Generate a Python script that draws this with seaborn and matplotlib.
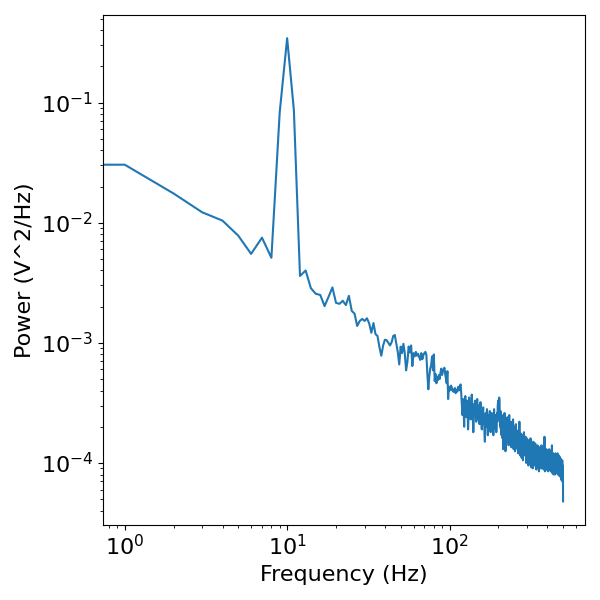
import numpy as np
import pandas as pd
import matplotlib
matplotlib.use("Agg")
import matplotlib.pyplot as plt
import seaborn as sns

# frequency bins, 1 Hz resolution from 0 to 500 Hz
freqs = np.arange(0, 501)

# power (V^2/Hz)
power_0_15 = [0.0152, 0.0304, 0.0175, 0.0122, 0.0104, 0.0078, 0.0055, 0.0075,
              0.0051, 0.083, 0.344, 0.087, 0.0036, 0.0040, 0.00285, 0.00256]

power_16_100 = [
    0.00250, 0.00202, 0.00242, 0.00289, 0.00215, 0.00211, 0.00224, 0.00206, 0.00246, 0.00184,
    0.00175, 0.00138, 0.00152, 0.00158, 0.00152, 0.00160, 0.00145, 0.00121, 0.00146, 0.00118,
    0.00114, 0.00092, 0.00078, 0.00095, 0.00106, 0.00105, 0.00100, 0.00095, 0.00101, 0.00114,
    0.00116, 0.00099, 0.00084, 0.00066, 0.00093, 0.00082, 0.00098, 0.00082, 0.00059, 0.00069,
    0.00093, 0.00083, 0.00095, 0.00064, 0.00082, 0.00077, 0.00084, 0.00078, 0.00081, 0.00076,
    0.00072, 0.00082, 0.00073, 0.00079, 0.00082, 0.00084, 0.00079, 0.00055, 0.00041, 0.00052,
    0.00061, 0.00065, 0.00077, 0.00059, 0.00080, 0.00048, 0.00055, 0.00046, 0.00052, 0.00049,
    0.00054, 0.00050, 0.00057, 0.00061, 0.00054, 0.00058, 0.00060, 0.00062, 0.00055, 0.00050,
    0.00046, 0.00058, 0.00034, 0.00043, 0.00040,
]

# 101..500 Hz, in units of 1e-4 V^2/Hz
power_101_500_e4 = [
    4.1, 4.4, 4.3, 4.0, 4.1, 3.9, 4.0, 4.2, 3.8, 4.0,
    3.9, 4.1, 4.3, 4.0, 4.2, 4.4, 4.5, 3.8, 3.1, 2.5,
    3.4, 2.9, 2.0, 3.1, 3.6, 2.7, 2.4, 3.3, 3.0, 1.9,
    2.6, 3.5, 2.9, 3.2, 2.3, 2.7, 3.7, 3.0, 2.5, 1.8,
    2.4, 3.1, 2.8, 3.3, 2.6, 2.2, 2.9, 3.4, 2.7, 2.3,
    3.0, 2.5, 2.1, 2.8, 3.2, 2.6, 2.2, 1.9, 2.7, 2.4,
    2.9, 2.1, 2.5, 1.8, 1.5, 2.3, 2.6, 2.0, 2.4, 2.8,
    2.2, 1.7, 2.1, 2.5, 1.9, 2.3, 2.7, 2.0, 1.8, 2.4,
    2.2, 2.6, 1.9, 2.3, 2.1, 1.7, 2.4, 2.8, 2.0, 2.2,
    2.5, 1.9, 2.3, 1.8, 2.1, 2.6, 2.2, 3.0, 3.3, 2.4,
    2.6, 3.5, 3.3, 2.4, 2.0, 2.7, 1.9, 2.3, 1.7, 2.5,
    2.1, 1.6, 2.4, 1.3, 1.9, 2.2, 1.7, 2.6, 1.8, 2.0,
    1.25, 1.9, 2.3, 1.6, 2.1, 1.5, 2.4, 1.8, 2.2, 1.7,
    1.4, 2.0, 2.5, 1.9, 1.6, 2.1, 1.5, 1.8, 2.2, 1.35,
    1.7, 2.0, 1.45, 1.9, 1.6, 2.3, 1.55, 1.3, 1.8, 2.0,
    1.5, 1.75, 1.25, 1.9, 1.6, 2.1, 1.45, 1.7, 1.85, 1.4,
    1.6, 1.3, 1.75, 1.5, 1.2, 1.65, 1.9, 1.4, 2.2, 1.55,
    1.35, 1.6, 1.15, 1.5, 1.75, 1.3, 1.55, 1.1, 1.45, 1.7,
    1.25, 1.5, 1.05, 1.4, 1.6, 1.35, 1.8, 1.2, 1.5, 1.3,
    1.55, 1.15, 1.4, 1.65, 1.25, 1.0, 1.45, 1.3, 1.6, 1.2,
    1.35, 1.1, 1.5, 1.25, 1.4, 0.95, 1.3, 1.55, 1.15, 1.35,
    1.2, 1.45, 1.05, 1.3, 1.6, 1.1, 1.25, 0.92, 1.4, 1.2,
    1.3, 1.05, 1.45, 1.15, 0.9, 1.35, 1.2, 1.5, 1.1, 1.25,
    1.0, 1.4, 1.15, 1.3, 0.95, 1.2, 1.45, 1.05, 1.25, 1.1,
    1.3, 0.88, 1.15, 1.35, 1.0, 1.2, 1.1, 1.4, 0.92, 1.25,
    1.1, 1.3, 1.0, 1.2, 0.85, 1.15, 1.35, 1.05, 1.25, 0.95,
    1.2, 1.1, 1.3, 0.9, 1.15, 1.25, 1.0, 1.4, 1.05, 1.2,
    0.9, 1.1, 1.3, 1.3, 1.2, 0.95, 1.15, 1.05, 1.25, 0.88,
    1.1, 1.2, 0.95, 1.65, 1.0, 1.15, 0.85, 1.1, 1.25, 1.0,
    1.15, 0.9, 1.2, 1.05, 1.3, 0.92, 1.1, 1.0, 1.2, 0.87,
    1.05, 1.25, 0.95, 1.1, 0.85, 1.15, 1.0, 1.2, 0.9, 1.1,
    1.3, 1.0, 0.88, 1.15, 1.05, 1.25, 0.9, 1.1, 0.97, 1.2,
    0.85, 1.05, 1.15, 0.92, 1.1, 1.0, 1.4, 0.9, 1.05, 0.82,
    1.0, 1.15, 0.9, 1.1, 0.95, 1.2, 0.8, 1.05, 0.93, 1.1,
    1.0, 0.85, 1.15, 0.95, 1.05, 0.8, 1.1, 0.92, 1.2, 0.88,
    1.0, 1.1, 0.85, 1.05, 0.93, 1.15, 0.82, 1.0, 0.9, 1.08,
    0.95, 1.2, 0.88, 1.0, 0.8, 1.05, 0.93, 1.1, 0.85, 1.0,
    1.15, 0.9, 1.0, 0.78, 0.95, 1.05, 0.88, 1.12, 0.82, 0.98,
    0.9, 1.05, 0.76, 0.95, 1.08, 0.85, 1.0, 0.72, 0.92, 1.02,
    0.85, 0.98, 0.75, 1.05, 0.88, 0.7, 0.95, 0.82, 0.9, 0.478,
]

power = np.concatenate([power_0_15, power_16_100,
                        np.array(power_101_500_e4) * 1e-4])
df = pd.DataFrame({"Frequency": freqs, "Power": power})

fig, ax = plt.subplots(figsize=(6, 6), dpi=100)
sns.lineplot(data=df, x="Frequency", y="Power", ax=ax)
ax.set_xscale("log")
ax.set_yscale("log")
ax.set_xlabel("Frequency (Hz)", fontsize=16)
ax.set_ylabel("Power (V^2/Hz)", fontsize=16)
ax.tick_params(labelsize=16)
plt.tight_layout()
plt.savefig("out.png")
